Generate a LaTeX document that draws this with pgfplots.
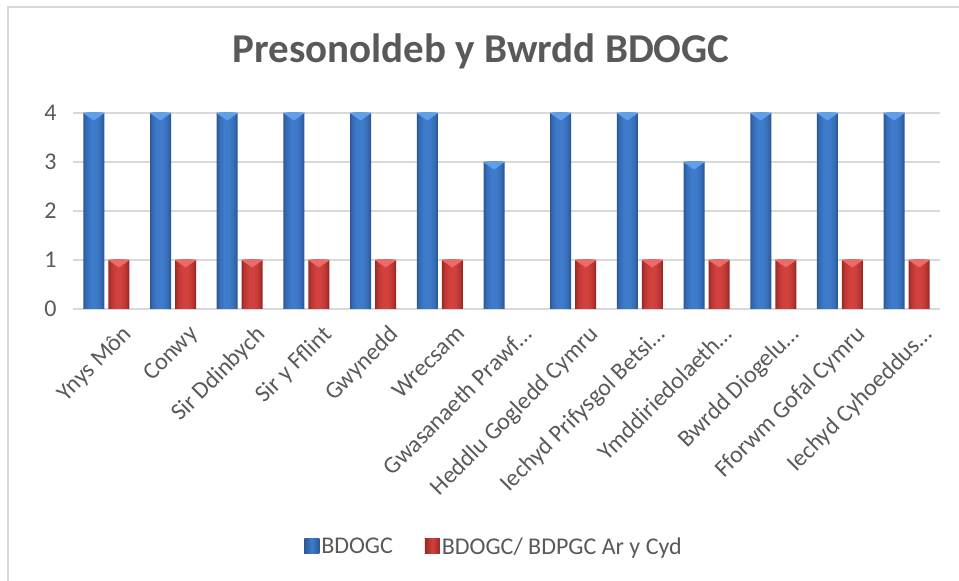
\documentclass[border=0pt]{standalone}
\usepackage{fontspec}
\setmainfont{Carlito}
\usepackage{pgfplots}
\usepackage{pgfplotstable}
\pgfplotsset{compat=1.18}
\definecolor{txt}{HTML}{595959}
\definecolor{gridc}{HTML}{D9D9D9}
\definecolor{bluedark}{HTML}{2C5898}
\definecolor{bluelight}{HTML}{3E7CCB}
\definecolor{bluetop}{HTML}{5FA0EC}
\definecolor{reddark}{HTML}{9A2826}
\definecolor{redlight}{HTML}{D1413D}
\definecolor{redtop}{HTML}{EE6A66}
\pgfplotstableread{
x  b  r
0  4  1
1  4  1
2  4  1
3  4  1
4  4  1
5  4  1
6  3  nan
7  4  1
8  4  1
9  3  1
10 4  1
11 4  1
12 4  1
}\data
\newcommand\layer[4]{% width, percent light, column, shift
  \ifx#3b
    \addplot[forget plot, draw=none, fill=bluelight!#2!bluedark, bar width=#1, bar shift=#4] table[x=x,y=b]{\data};
  \else
    \addplot[forget plot, draw=none, fill=redlight!#2!reddark, bar width=#1, bar shift=#4] table[x=x,y=r]{\data};
  \fi}
\begin{document}
\begin{tikzpicture}
\path[use as bounding box] (0,0) rectangle (959bp,581bp);
\draw[gridc, line width=2bp] (8bp,0) -- (8bp,574bp) -- (959bp,574bp);
\node[anchor=base, text=txt, font=\fontsize{41bp}{48bp}\selectfont\bfseries] at (481bp,518bp) {Presonoldeb y Bwrdd BDOGC};
\begin{axis}[
  at={(73bp,272bp)}, anchor=south west,
  scale only axis, width=867bp, height=196bp,
  xmin=-0.5, xmax=12.5, ymin=0, ymax=4,
  ybar, bar width=21bp,
  axis line style={draw=none},
  major tick length=0pt,
  ymajorgrids, grid style={gridc, line width=1.5bp},
  ytick={0,1,2,3,4},
  xtick={0,...,12},
  xticklabels={{Ynys Môn},{Conwy},{Sir Ddinbych},{Sir y Fflint},{Gwynedd},{Wrecsam},{Gwasanaeth Prawf…},{Heddlu Gogledd Cymru},{Iechyd Prifysgol Betsi…},{Ymddiriedolaeth…},{Bwrdd Diogelu…},{Fforwm Gofal Cymru},{Iechyd Cyhoeddus…}},
  /pgf/number format/assume math mode=true,
  tick label style={text=txt, font=\fontsize{24bp}{28bp}\selectfont},
  yticklabel style={xshift=-13bp},
  xticklabel style={rotate=45, anchor=north east, inner sep=0pt, xshift=0bp, yshift=-21bp},
  legend columns=2,
  legend style={at={(0.4856,-1.214)}, anchor=center, draw=none, fill=none,
    font=\fontsize{24bp}{28bp}\selectfont, text=txt,
    /tikz/every even column/.append style={column sep=30bp}},
  legend cell align=left,
]
\addplot[draw=none, fill=bluedark, bar width=21bp, bar shift=-12.5bp,
  legend image code/.code={\path[left color=bluedark, right color=bluedark, middle color=bluelight] (0bp,-7bp) rectangle (15bp,8bp);}]
  table[x=x,y=b]{\data};
\addlegendentry{BDOGC}
\addplot[draw=none, fill=reddark, bar width=21bp, bar shift=12.5bp,
  legend image code/.code={\path[left color=reddark, right color=reddark, middle color=redlight] (0bp,-7bp) rectangle (15bp,8bp);}]
  table[x=x,y=r]{\data};
\addlegendentry{BDOGC/ BDPGC Ar y Cyd}
\layer{19bp}{25}{b}{-12.5bp}
\layer{17bp}{45}{b}{-12.5bp}
\layer{15bp}{62}{b}{-12.5bp}
\layer{12bp}{78}{b}{-12.5bp}
\layer{9bp}{90}{b}{-12.5bp}
\layer{6bp}{100}{b}{-12.5bp}
\layer{19bp}{25}{r}{12.5bp}
\layer{17bp}{45}{r}{12.5bp}
\layer{15bp}{62}{r}{12.5bp}
\layer{12bp}{78}{r}{12.5bp}
\layer{9bp}{90}{r}{12.5bp}
\layer{6bp}{100}{r}{12.5bp}
\addplot[forget plot, only marks, mark=triangle*, mark size=12bp, color=bluetop,
  mark options={xshift=-12.5bp, yshift=-2.4bp, rotate=180, yscale=0.4, draw=none}]
  table[x=x,y=b]{\data};
\addplot[forget plot, only marks, mark=triangle*, mark size=12bp, color=redtop,
  mark options={xshift=12.5bp, yshift=-2.4bp, rotate=180, yscale=0.4, draw=none}]
  table[x=x,y=r]{\data};
\end{axis}
\end{tikzpicture}
\end{document}
